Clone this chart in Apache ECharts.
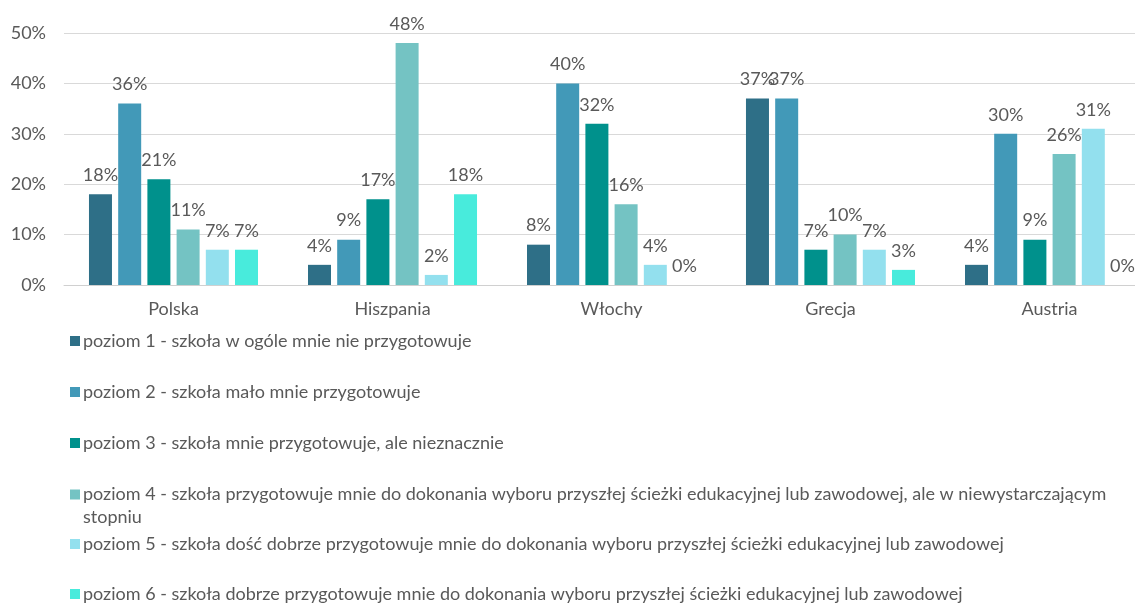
<!DOCTYPE html>
<html>
<head>
<meta charset="utf-8">
<script src="https://cdn.jsdelivr.net/npm/echarts@6/dist/echarts.min.js"></script>
<style>
	html, body { margin: 0; padding: 0; background: #fff; }
	#main { width: 1135px; height: 603px; }
</style>
</head>
<body>
<div id="main"></div>
<script>
// dane
var countries = ['Polska', 'Hiszpania', 'Włochy', 'Grecja', 'Austria'];
var levels = [
	'poziom 1 - szkoła w ogóle mnie nie przygotowuje',
	'poziom 2 - szkoła mało mnie przygotowuje',
	'poziom 3 - szkoła mnie przygotowuje, ale nieznacznie',
	'poziom 4 - szkoła przygotowuje mnie do dokonania wyboru przyszłej ścieżki edukacyjnej lub zawodowej, ale w niewystarczającym stopniu',
	'poziom 5 - szkoła dość dobrze przygotowuje mnie do dokonania wyboru przyszłej ścieżki edukacyjnej lub zawodowej',
	'poziom 6 - szkoła dobrze przygotowuje mnie do dokonania wyboru przyszłej ścieżki edukacyjnej lub zawodowej'
];
var level1 = [18, 4, 8, 37, 4];
var level2 = [36, 9, 40, 37, 30];
var level3 = [21, 17, 32, 7, 9];
var level4 = [11, 48, 16, 10, 26];
var level5 = [7, 2, 4, 7, 31];
var level6 = [7, 18, 0, 3, 0];
var yTicks = [0, 10, 20, 30, 40, 50];

var colors = ['#2e6f87', '#4299b8', '#00918c', '#74c3c3', '#93e0ee', '#48ebdc'];
var allValues = [level1, level2, level3, level4, level5, level6];
var legendTops = [327, 378, 429, 455, 530, 580];
var font = 'Lato';

var chart = echarts.init(document.getElementById('main'));

var series = [];
var legends = [];
for (var i = 0; i < levels.length; i++) {
	series.push({
		name: levels[i],
		type: 'bar',
		data: allValues[i],
		barWidth: 23,
		barGap: '27%',
		itemStyle: { color: colors[i] },
		label: {
			show: true,
			position: 'top',
			distance: 10,
			formatter: '{c}%',
			color: '#595959',
			fontSize: 18,
			fontFamily: font
		}
	});
	var lg = {
		data: [levels[i]],
		left: 65,
		top: legendTops[i],
		itemWidth: 10,
		itemHeight: 10,
		icon: 'rect',
		selectedMode: false,
		textStyle: { color: '#595959', fontSize: 18, fontFamily: font, padding: [0, 0, 0, -2] }
	};
	if (i === 3) {
		// druga linia jak w oryginale, ikona przy pierwszej
		lg.formatter = function(name) {
			return ' \n' + name.replace(' stopniu', '') + '\nstopniu';
		};
		lg.textStyle.lineHeight = 23;
	}
	legends.push(lg);
}

var option = {
	animation: false,
	grid: { left: 64, width: 1095, top: 33, bottom: 318, containLabel: false, outerBoundsMode: 'none' },
	legend: legends,
	xAxis: {
		type: 'category',
		data: countries,
		axisTick: { show: false },
		axisLine: { lineStyle: { color: '#d0d0d0', width: 1 } },
		axisLabel: { color: '#595959', fontSize: 18, fontFamily: font, margin: 15 }
	},
	yAxis: {
		type: 'value',
		min: yTicks[0],
		max: yTicks[yTicks.length - 1],
		interval: 10,
		axisLine: { show: false },
		axisTick: { show: false },
		splitLine: { lineStyle: { color: '#d9d9d9', width: 1 } },
		axisLabel: { formatter: '{value}%', color: '#595959', fontSize: 18, fontFamily: font, margin: 18 }
	},
	series: series
};
chart.setOption(option);
</script>
</body>
</html>
